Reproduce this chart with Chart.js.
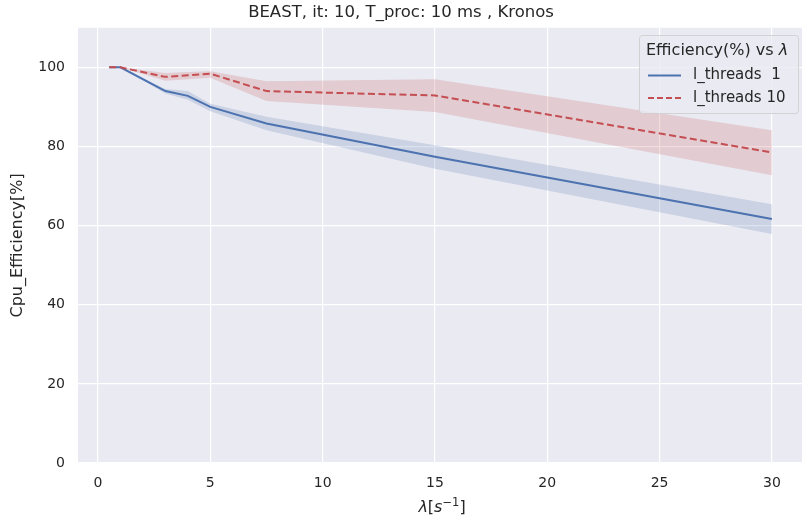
<!DOCTYPE html>
<html><head><meta charset="utf-8">
<script src="https://cdn.jsdelivr.net/npm/chart.js@4"></script>
<style>html,body{margin:0;padding:0;background:#fff;overflow:hidden}#wrap{width:802px;height:519px}</style>
</head><body><div id="wrap"><canvas id="c" width="802" height="519"></canvas></div>
<script>
const lambdaValues   = [0.5, 1, 3, 4, 5, 7.5, 15, 30];
const threads1Mean   = [100, 100, 94.0, 92.8, 90.0, 85.8, 77.4, 61.7];
const threads1Upper  = [100, 100, 94.5, 94.0, 90.8, 87.5, 80.3, 65.4];
const threads1Lower  = [100, 100, 93.4, 91.8, 88.9, 84.1, 74.4, 57.9];
const threads10Mean  = [100, 100, 97.6, 98.0, 98.4, 94.0, 92.9, 78.5];
const threads10Upper = [100, 100, 98.6, 98.8, 99.0, 96.5, 97.0, 84.1];
const threads10Lower = [100, 100, 96.6, 97.0, 97.4, 91.5, 88.7, 72.7];
const xTicks = [0, 5, 10, 15, 20, 25, 30];
const yTicks = [0, 20, 40, 60, 80, 100];
const seriesLabels = ['l_threads  1', 'l_threads 10'];

const BLUE = '#4C72B0', RED = '#C44E52', TXT = '#262626';
const pts = ys => lambdaValues.map((x, i) => ({x, y: ys[i]}));
const FONT = "'DejaVu Sans', sans-serif";

const bgPlugin = {
  id: 'bg',
  beforeDraw(chart) {
    const {ctx, chartArea: a} = chart;
    ctx.save(); ctx.fillStyle = '#EAEAF2';
    ctx.fillRect(a.left, a.top, a.right - a.left, a.bottom - a.top);
    ctx.restore();
  }
};

// x-axis title drawn as mathtext-like pieces: λ[s^{-1}]
const xTitlePlugin = {
  id: 'xTitle',
  afterDraw(chart) {
    const ctx = chart.ctx;
    const parts = [
      ['λ', 'italic 16px ' + FONT, 0],
      ['[', '16px ' + FONT, 0],
      ['s', 'italic 16px ' + FONT, 0],
      ['−1', '11.5px ' + FONT, -6],
      [']', '16px ' + FONT, 0]
    ];
    ctx.save();
    ctx.fillStyle = TXT; ctx.textBaseline = 'alphabetic'; ctx.textAlign = 'left';
    let total = 0;
    for (const [t, f] of parts) { ctx.font = f; total += ctx.measureText(t).width; }
    const cx = (chart.chartArea.left + 771) / 2 + 20;
    let x = 442 - total / 2;
    const base = 512;
    for (const [t, f, dy] of parts) {
      ctx.font = f; ctx.fillText(t, x, base + dy); x += ctx.measureText(t).width;
    }
    ctx.restore();
  }
};

const legendPlugin = {
  id: 'customLegend',
  afterDraw(chart) {
    const ctx = chart.ctx;
    const x0 = 639, y0 = 35, w = 159, h = 78;
    ctx.save();
    ctx.beginPath();
    if (ctx.roundRect) ctx.roundRect(x0 + 0.5, y0 + 0.5, w, h, 3); else ctx.rect(x0 + 0.5, y0 + 0.5, w, h);
    ctx.fillStyle = 'rgba(234,234,242,0.8)'; ctx.fill();
    ctx.strokeStyle = 'rgba(204,204,204,0.8)'; ctx.lineWidth = 1; ctx.stroke();
    ctx.fillStyle = TXT; ctx.textBaseline = 'middle'; ctx.textAlign = 'left';
    ctx.font = '16px ' + FONT;
    const t1 = 'Efficiency(%) vs ';
    ctx.fillText(t1, 646, 51);
    const tw = ctx.measureText(t1).width;
    ctx.font = 'italic 16px ' + FONT;
    ctx.fillText('λ', 646 + tw, 51);
    ctx.font = '15px ' + FONT;
    const items = [[BLUE, [], 75.5, seriesLabels[0]], [RED, [6, 3], 98, seriesLabels[1]]];
    for (const [col, dash, y, lab] of items) {
      ctx.beginPath(); ctx.setLineDash(dash); ctx.strokeStyle = col; ctx.lineWidth = 2;
      ctx.moveTo(648, y); ctx.lineTo(681, y); ctx.stroke(); ctx.setLineDash([]);
      ctx.fillStyle = TXT; ctx.fillText(lab, 693, y);
    }
    ctx.restore();
  }
};

new Chart(document.getElementById('c'), {
  type: 'scatter',
  data: {
    datasets: [
      {label: seriesLabels[1], data: pts(threads10Mean), showLine: true, borderColor: RED, borderWidth: 2, borderDash: [7, 3.5], pointRadius: 0, fill: false, tension: 0},
      {label: seriesLabels[0], data: pts(threads1Mean), showLine: true, borderColor: BLUE, borderWidth: 2, pointRadius: 0, fill: false, tension: 0},
      {label: 'b_lo', data: pts(threads1Lower), showLine: true, borderWidth: 0, borderColor: 'rgba(0,0,0,0)', pointRadius: 0, fill: false},
      {label: 'b_hi', data: pts(threads1Upper), showLine: true, borderWidth: 0, borderColor: 'rgba(0,0,0,0)', pointRadius: 0, fill: {target: 2}, backgroundColor: 'rgba(76,114,176,0.2)'},
      {label: 'r_lo', data: pts(threads10Lower), showLine: true, borderWidth: 0, borderColor: 'rgba(0,0,0,0)', pointRadius: 0, fill: false},
      {label: 'r_hi', data: pts(threads10Upper), showLine: true, borderWidth: 0, borderColor: 'rgba(0,0,0,0)', pointRadius: 0, fill: {target: 4}, backgroundColor: 'rgba(196,78,82,0.2)'}
    ]
  },
  options: {
    responsive: false, animation: false, devicePixelRatio: 1,
    layout: {padding: {left: 0, right: 0, top: 0, bottom: 0}},
    plugins: {
      legend: {display: false}, tooltip: {enabled: false},
      title: {display: true, text: 'BEAST, it: 10, T_proc: 10 ms , Kronos', color: TXT,
              font: {family: FONT, size: 16.5, weight: 'normal'}, padding: {top: 3, bottom: 5}}
    },
    scales: {
      x: {
        type: 'linear', min: -0.89, max: 31.34,
        afterBuildTicks: s => { s.ticks = xTicks.map(v => ({value: v})); },
        afterFit: s => { s.height = 56; },
        grid: {color: '#FFFFFF', lineWidth: 1.2, drawTicks: false},
        border: {display: false},
        ticks: {padding: 12, color: TXT, font: {family: FONT, size: 14}, maxRotation: 0},
        title: {display: false}
      },
      y: {
        min: 0, max: 110,
        afterBuildTicks: s => { s.ticks = yTicks.map(v => ({value: v})); },
        afterFit: s => { s.width = 78; },
        grid: {color: '#FFFFFF', lineWidth: 1.2, drawTicks: false},
        border: {display: false},
        ticks: {padding: 13, color: TXT, font: {family: FONT, size: 14}},
        title: {display: true, text: 'Cpu_Efficiency[%]', color: TXT, font: {family: FONT, size: 16}, padding: {top: 8, bottom: 0}}
      }
    }
  },
  plugins: [bgPlugin, xTitlePlugin, legendPlugin]
});
</script>
</body></html>
